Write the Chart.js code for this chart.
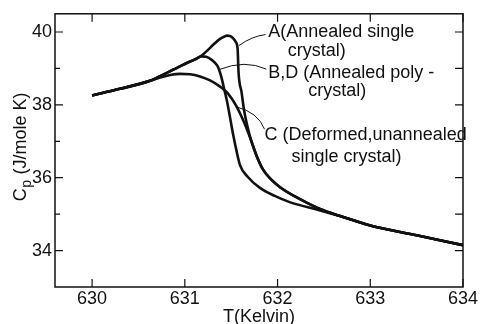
<!DOCTYPE html>
<html>
<head>
<meta charset="utf-8">
<script src="https://cdn.jsdelivr.net/npm/chart.js@4.4.0/dist/chart.umd.min.js"></script>
<style>
  html, body { margin: 0; padding: 0; background: #fff; }
</style>
</head>
<body>
<canvas id="chart" width="480" height="324"></canvas>
<script>
// temperature (K) and heat capacity (J/mole K)
const tempA = [630.0, 630.3, 630.625, 630.733, 630.877, 631.057, 631.121, 631.186, 631.25, 631.315, 631.38, 631.423, 631.455, 631.488, 631.52, 631.553, 631.569, 631.58, 631.613, 631.639, 631.677, 631.714, 631.779, 631.844, 631.919, 632.027, 632.243, 632.458, 632.674, 633.0, 633.5, 634.0];
const cpA   = [38.26, 38.44, 38.66, 38.79, 38.97, 39.19, 39.26, 39.36, 39.51, 39.67, 39.81, 39.87, 39.90, 39.89, 39.83, 39.71, 39.55, 38.87, 38.33, 37.85, 37.39, 37.03, 36.57, 36.22, 35.98, 35.74, 35.41, 35.14, 34.95, 34.69, 34.42, 34.15];

const tempBD = [630.0, 630.3, 630.625, 630.733, 630.877, 631.057, 631.121, 631.175, 631.23, 631.283, 631.326, 631.358, 631.39, 631.423, 631.455, 631.488, 631.52, 631.56, 631.596, 631.68, 631.81, 631.97, 632.13, 632.46, 632.674, 633.0, 633.5, 634.0];
const cpBD   = [38.26, 38.44, 38.66, 38.79, 38.97, 39.19, 39.26, 39.33, 39.32, 39.25, 39.15, 39.04, 38.80, 38.45, 38.10, 37.65, 37.20, 36.71, 36.34, 36.02, 35.72, 35.50, 35.33, 35.10, 34.95, 34.69, 34.42, 34.15];

const tempC = [630.0, 630.3, 630.625, 630.733, 630.841, 630.949, 631.057, 631.164, 631.272, 631.38, 631.466, 631.553, 631.639, 631.714, 631.779, 631.844, 631.919, 632.027, 632.243, 632.458, 632.674, 633.0, 633.5, 634.0];
const cpC   = [38.26, 38.44, 38.66, 38.75, 38.82, 38.85, 38.84, 38.78, 38.67, 38.50, 38.31, 37.98, 37.52, 37.03, 36.57, 36.22, 35.98, 35.74, 35.41, 35.14, 34.95, 34.69, 34.42, 34.15];

const xTicks = [630, 631, 632, 633, 634];
const yTicks = [34, 35, 36, 37, 38, 39, 40];
const yLabels = [34, 36, 38, 40];

const ink = "#111";
const fontFamily = '"Liberation Sans", Arial, sans-serif';

function points(t, cp) {
  return t.map((v, i) => ({ x: v, y: cp[i] }));
}

// curve labels with their leader lines, anchored in data units
const notes = [
  { lines: [[631.90, 40.01, "A(Annealed single"], [632.11, 39.49, "crystal)"]],
    leader: [[631.87, 39.93], [631.72, 39.88], [631.585, 39.63]] },
  { lines: [[631.90, 38.87, "B,D (Annealed poly -"], [632.33, 38.38, "crystal)"]],
    leader: [[631.88, 38.98], [631.65, 39.25], [631.37, 38.97]] },
  { lines: [[631.86, 37.16, "C (Deformed,unannealed"], [632.15, 36.58, "single crystal)"]],
    leader: [[631.86, 37.33], [631.79, 37.80], [631.55, 37.95]] }
];

const decorations = {
  id: "decorations",
  afterDraw(chart) {
    const { ctx, chartArea: a, scales: { x, y } } = chart;
    ctx.save();
    ctx.strokeStyle = ink;
    ctx.fillStyle = ink;

    // frame
    ctx.lineWidth = 1.5;
    ctx.strokeRect(a.left, a.top, a.right - a.left, a.bottom - a.top);

    // inward ticks on all four sides
    ctx.lineWidth = 1.2;
    ctx.beginPath();
    xTicks.forEach(v => {
      const px = x.getPixelForValue(v);
      ctx.moveTo(px, a.bottom); ctx.lineTo(px, a.bottom - 8);
      ctx.moveTo(px, a.top); ctx.lineTo(px, a.top + 8);
    });
    yTicks.forEach(v => {
      const py = y.getPixelForValue(v);
      const len = yLabels.includes(v) ? 8 : 5;
      ctx.moveTo(a.left, py); ctx.lineTo(a.left + len, py);
      ctx.moveTo(a.right, py); ctx.lineTo(a.right - 8, py);
    });
    ctx.stroke();

    // annotations
    ctx.font = "18px " + fontFamily;
    ctx.textBaseline = "middle";
    ctx.textAlign = "left";
    notes.forEach(n => {
      n.lines.forEach(([t, cp, text]) => {
        ctx.fillText(text, x.getPixelForValue(t), y.getPixelForValue(cp));
      });
      const [p0, p1, p2] = n.leader.map(([t, cp]) => [x.getPixelForValue(t), y.getPixelForValue(cp)]);
      ctx.lineWidth = 1;
      ctx.beginPath();
      ctx.moveTo(p0[0], p0[1]);
      ctx.quadraticCurveTo(p1[0], p1[1], p2[0], p2[1]);
      ctx.stroke();
    });

    // y axis title with subscript p
    ctx.translate(21, (a.top + a.bottom) / 2 - 3);
    ctx.rotate(-Math.PI / 2);
    const big = "18px " + fontFamily;
    const small = "14px " + fontFamily;
    const rest = " (J/mole K)";
    ctx.font = big;
    const wC = ctx.measureText("C").width;
    const wRest = ctx.measureText(rest).width;
    ctx.font = small;
    const wP = ctx.measureText("p").width;
    let cx = -(wC + wP + wRest) / 2;
    ctx.font = big;
    ctx.fillText("C", cx, 0);
    cx += wC;
    ctx.font = small;
    ctx.fillText("p", cx + 0.5, 6);
    cx += wP + 1;
    ctx.font = big;
    ctx.fillText(rest, cx, 0);
    ctx.restore();
  }
};

const lineStyle = {
  borderColor: ink,
  borderWidth: 2.6,
  pointRadius: 0,
  fill: false,
  cubicInterpolationMode: "monotone"
};

new Chart(document.getElementById("chart"), {
  type: "line",
  data: {
    datasets: [
      { label: "A", data: points(tempA, cpA), ...lineStyle },
      { label: "B,D", data: points(tempBD, cpBD), ...lineStyle },
      { label: "C", data: points(tempC, cpC), ...lineStyle }
    ]
  },
  options: {
    responsive: false,
    animation: false,
    layout: { padding: { left: 0, right: 17, top: 10, bottom: 0 } },
    plugins: { legend: { display: false }, tooltip: { enabled: false } },
    scales: {
      x: {
        type: "linear",
        min: 629.6,
        max: 634,
        afterBuildTicks: s => { s.ticks = xTicks.map(v => ({ value: v })); },
        afterFit: s => { s.height = 37; },
        grid: { display: false, drawTicks: false },
        border: { display: false },
        ticks: {
          color: ink,
          padding: 1,
          maxRotation: 0,
          font: { family: fontFamily, size: 18 },
          callback: v => String(v)
        },
        title: {
          display: true,
          text: "T(Kelvin)",
          color: ink,
          font: { family: fontFamily, size: 18, lineHeight: 1 },
          padding: { top: 0, bottom: -2 }
        }
      },
      y: {
        type: "linear",
        min: 33,
        max: 40.5,
        afterBuildTicks: s => { s.ticks = yTicks.map(v => ({ value: v })); },
        afterFit: s => { s.width = 55; },
        grid: { display: false, drawTicks: false },
        border: { display: false },
        ticks: {
          color: ink,
          padding: 3,
          font: { family: fontFamily, size: 18 },
          callback: v => (yLabels.includes(v) ? String(v) : "")
        }
      }
    }
  },
  plugins: [decorations]
});
</script>
</body>
</html>
